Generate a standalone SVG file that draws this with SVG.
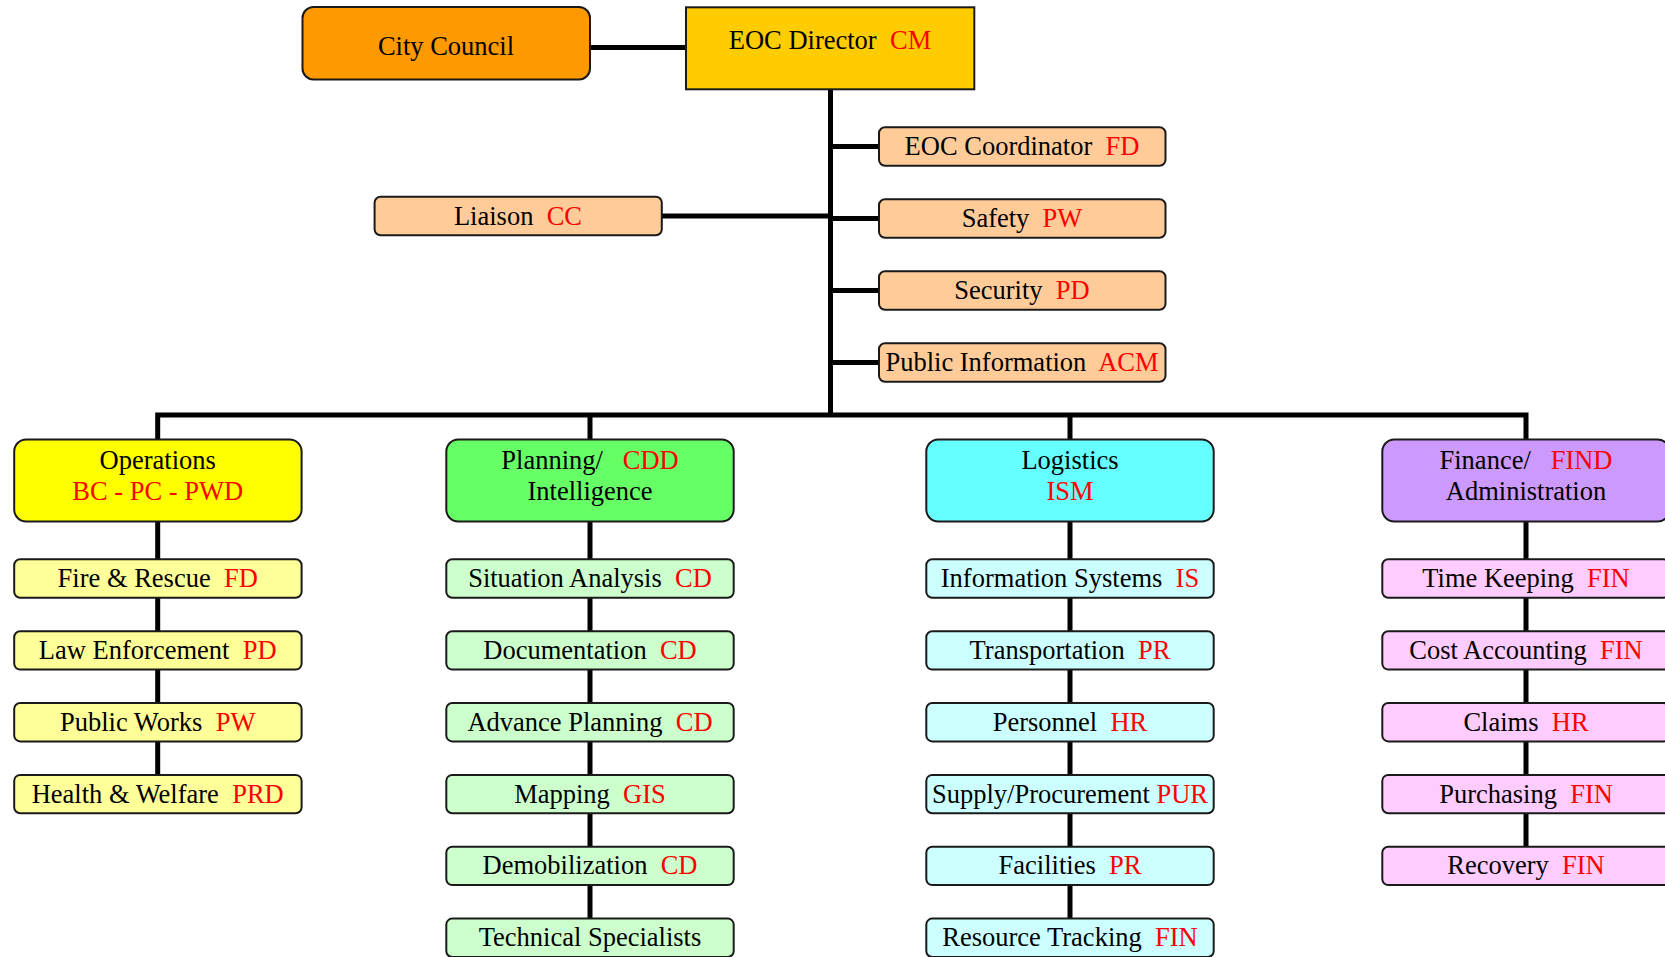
<svg xmlns="http://www.w3.org/2000/svg" width="1665" height="957" viewBox="0 0 1665 957">
  <style>
    text { font-family: "Liberation Serif", "Times New Roman", serif; font-size: 26.5px; fill: #000; text-anchor: middle; white-space: pre; }
    .r { fill: #FF0000; }
    .box { stroke: #1a1a1a; stroke-width: 2; }
    .wire { stroke: #000; stroke-width: 5; fill: none; }
    .council { fill: #FF9900; }
    .director { fill: #FFCC00; }
    .staff { fill: #FFCC99; }
    .opsH { fill: #FFFF00; } .ops { fill: #FFFF99; }
    .planH { fill: #66FF66; } .plan { fill: #CCFFCC; }
    .logH { fill: #66FFFF; } .log { fill: #CCFFFF; }
    .finH { fill: #CC99FF; } .fin { fill: #FFCCFF; }
  </style>
  <rect width="1665" height="957" fill="#fff"/>

  <!-- connectors -->
  <g id="connectors">
    <line class="wire" x1="590" y1="47.5" x2="686" y2="47.5"/>
    <line class="wire" x1="830.5" y1="89" x2="830.5" y2="415"/>
    <line class="wire" x1="830.5" y1="146.5" x2="879" y2="146.5"/>
    <line class="wire" x1="830.5" y1="218.5" x2="879" y2="218.5"/>
    <line class="wire" x1="830.5" y1="290.5" x2="879" y2="290.5"/>
    <line class="wire" x1="830.5" y1="362.5" x2="879" y2="362.5"/>
    <line class="wire" x1="662" y1="216" x2="830.5" y2="216"/>
    <polyline class="wire" stroke-linejoin="miter" points="157.7,440 157.7,415 1526,415 1526,440"/>
    <line class="wire" x1="590" y1="415" x2="590" y2="440"/>
    <line class="wire" x1="1070" y1="415" x2="1070" y2="440"/>
    <line class="wire" x1="157.7" y1="521" x2="157.7" y2="776"/>
    <line class="wire" x1="590" y1="521" x2="590" y2="920"/>
    <line class="wire" x1="1070" y1="521" x2="1070" y2="920"/>
    <line class="wire" x1="1526" y1="521" x2="1526" y2="848"/>
  </g>

  <!-- command -->
  <g id="city-council">
    <rect class="box council" x="302.5" y="7" width="287.5" height="72.5" rx="11"/>
    <text x="446" y="55">City Council</text>
  </g>
  <g id="eoc-director">
    <rect class="box director" x="686" y="7.3" width="288.3" height="82"/>
    <text x="830" y="49">EOC Director  <tspan class="r">CM</tspan></text>
  </g>

  <!-- command staff -->
  <g id="eoc-coordinator">
    <rect class="box staff" x="879" y="127.3" width="286.5" height="38.4" rx="6"/>
    <text x="1022" y="155">EOC Coordinator  <tspan class="r">FD</tspan></text>
  </g>
  <g id="safety">
    <rect class="box staff" x="879" y="199.3" width="286.5" height="38.4" rx="6"/>
    <text x="1022" y="227">Safety  <tspan class="r">PW</tspan></text>
  </g>
  <g id="security">
    <rect class="box staff" x="879" y="271.3" width="286.5" height="38.4" rx="6"/>
    <text x="1022" y="299">Security  <tspan class="r">PD</tspan></text>
  </g>
  <g id="public-information">
    <rect class="box staff" x="879" y="343.3" width="286.5" height="38.4" rx="6"/>
    <text x="1022" y="371">Public Information  <tspan class="r">ACM</tspan></text>
  </g>
  <g id="liaison">
    <rect class="box staff" x="374.6" y="196.8" width="287.2" height="38.4" rx="6"/>
    <text x="518" y="224.5">Liaison  <tspan class="r">CC</tspan></text>
  </g>

  <!-- section chiefs -->
  <g id="operations">
    <rect class="box opsH" x="14.2" y="439.5" width="287.4" height="82" rx="12"/>
    <text x="157.7" y="468.5">Operations</text>
    <text x="157.7" y="499.5" class="r">BC - PC - PWD</text>
  </g>
  <g id="planning">
    <rect class="box planH" x="446.3" y="439.5" width="287.4" height="82" rx="12"/>
    <text x="590" y="468.5">Planning/   <tspan class="r">CDD</tspan></text>
    <text x="590" y="499.5">Intelligence</text>
  </g>
  <g id="logistics">
    <rect class="box logH" x="926.3" y="439.5" width="287.4" height="82" rx="12"/>
    <text x="1070" y="468.5">Logistics</text>
    <text x="1070" y="499.5" class="r">ISM</text>
  </g>
  <g id="finance">
    <rect class="box finH" x="1382.3" y="439.5" width="287.4" height="82" rx="12"/>
    <text x="1526" y="468.5">Finance/   <tspan class="r">FIND</tspan></text>
    <text x="1526" y="499.5">Administration</text>
  </g>

  <!-- operations units -->
  <g id="fire-rescue">
    <rect class="box ops" x="14.2" y="559.3" width="287.4" height="38.4" rx="6"/>
    <text x="157.7" y="587">Fire &amp; Rescue  <tspan class="r">FD</tspan></text>
  </g>
  <g id="law-enforcement">
    <rect class="box ops" x="14.2" y="631.2" width="287.4" height="38.4" rx="6"/>
    <text x="157.7" y="658.9">Law Enforcement  <tspan class="r">PD</tspan></text>
  </g>
  <g id="public-works">
    <rect class="box ops" x="14.2" y="703" width="287.4" height="38.4" rx="6"/>
    <text x="157.7" y="730.7">Public Works  <tspan class="r">PW</tspan></text>
  </g>
  <g id="health-welfare">
    <rect class="box ops" x="14.2" y="774.9" width="287.4" height="38.4" rx="6"/>
    <text x="157.7" y="802.6">Health &amp; Welfare  <tspan class="r">PRD</tspan></text>
  </g>

  <!-- planning units -->
  <g id="situation-analysis">
    <rect class="box plan" x="446.3" y="559.3" width="287.4" height="38.4" rx="6"/>
    <text x="590" y="587">Situation Analysis  <tspan class="r">CD</tspan></text>
  </g>
  <g id="documentation">
    <rect class="box plan" x="446.3" y="631.2" width="287.4" height="38.4" rx="6"/>
    <text x="590" y="658.9">Documentation  <tspan class="r">CD</tspan></text>
  </g>
  <g id="advance-planning">
    <rect class="box plan" x="446.3" y="703" width="287.4" height="38.4" rx="6"/>
    <text x="590" y="730.7">Advance Planning  <tspan class="r">CD</tspan></text>
  </g>
  <g id="mapping">
    <rect class="box plan" x="446.3" y="774.9" width="287.4" height="38.4" rx="6"/>
    <text x="590" y="802.6">Mapping  <tspan class="r">GIS</tspan></text>
  </g>
  <g id="demobilization">
    <rect class="box plan" x="446.3" y="846.7" width="287.4" height="38.4" rx="6"/>
    <text x="590" y="874.4">Demobilization  <tspan class="r">CD</tspan></text>
  </g>
  <g id="technical-specialists">
    <rect class="box plan" x="446.3" y="918.6" width="287.4" height="38.4" rx="6"/>
    <text x="590" y="946.3">Technical Specialists</text>
  </g>

  <!-- logistics units -->
  <g id="information-systems">
    <rect class="box log" x="926.3" y="559.3" width="287.4" height="38.4" rx="6"/>
    <text x="1070" y="587">Information Systems  <tspan class="r">IS</tspan></text>
  </g>
  <g id="transportation">
    <rect class="box log" x="926.3" y="631.2" width="287.4" height="38.4" rx="6"/>
    <text x="1070" y="658.9">Transportation  <tspan class="r">PR</tspan></text>
  </g>
  <g id="personnel">
    <rect class="box log" x="926.3" y="703" width="287.4" height="38.4" rx="6"/>
    <text x="1070" y="730.7">Personnel  <tspan class="r">HR</tspan></text>
  </g>
  <g id="supply-procurement">
    <rect class="box log" x="926.3" y="774.9" width="287.4" height="38.4" rx="6"/>
    <text x="1070" y="802.6">Supply/Procurement <tspan class="r">PUR</tspan></text>
  </g>
  <g id="facilities">
    <rect class="box log" x="926.3" y="846.7" width="287.4" height="38.4" rx="6"/>
    <text x="1070" y="874.4">Facilities  <tspan class="r">PR</tspan></text>
  </g>
  <g id="resource-tracking">
    <rect class="box log" x="926.3" y="918.6" width="287.4" height="38.4" rx="6"/>
    <text x="1070" y="946.3">Resource Tracking  <tspan class="r">FIN</tspan></text>
  </g>

  <!-- finance units -->
  <g id="time-keeping">
    <rect class="box fin" x="1382.3" y="559.3" width="287.4" height="38.4" rx="6"/>
    <text x="1526" y="587">Time Keeping  <tspan class="r">FIN</tspan></text>
  </g>
  <g id="cost-accounting">
    <rect class="box fin" x="1382.3" y="631.2" width="287.4" height="38.4" rx="6"/>
    <text x="1526" y="658.9">Cost Accounting  <tspan class="r">FIN</tspan></text>
  </g>
  <g id="claims">
    <rect class="box fin" x="1382.3" y="703" width="287.4" height="38.4" rx="6"/>
    <text x="1526" y="730.7">Claims  <tspan class="r">HR</tspan></text>
  </g>
  <g id="purchasing">
    <rect class="box fin" x="1382.3" y="774.9" width="287.4" height="38.4" rx="6"/>
    <text x="1526" y="802.6">Purchasing  <tspan class="r">FIN</tspan></text>
  </g>
  <g id="recovery">
    <rect class="box fin" x="1382.3" y="846.7" width="287.4" height="38.4" rx="6"/>
    <text x="1526" y="874.4">Recovery  <tspan class="r">FIN</tspan></text>
  </g>
</svg>
